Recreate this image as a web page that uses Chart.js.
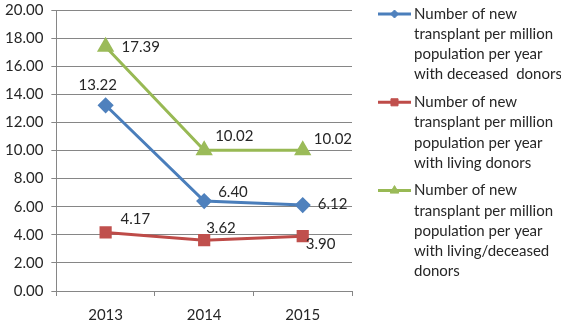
<!DOCTYPE html>
<html>
<head>
<meta charset="utf-8">
<script src="https://cdn.jsdelivr.net/npm/chart.js@4/dist/chart.umd.min.js"></script>
<style>
  html, body { margin: 0; padding: 0; background: #fff; }
  #wrap { width: 561px; height: 324px; }
</style>
</head>
<body>
<div id="wrap"><canvas id="line"></canvas></div>
<script>
var years = ['2013', '2014', '2015'];
var deceased = [13.22, 6.40, 6.12];
var living = [4.17, 3.62, 3.90];
var livingDeceased = [17.39, 10.02, 10.02];
var seriesNames = [
  'Number of new\ntransplant per million\npopulation per year\nwith deceased  donors',
  'Number of new\ntransplant per million\npopulation per year\nwith living donors',
  'Number of new\ntransplant per million\npopulation per year\nwith living/deceased\ndonors'
];

var FONT = 'Lato, "Open Sans", sans-serif';
var TEXT = '#262626';

// value labels next to the points (dx, dy from the point, in px)
var valueLabels = {
  id: 'valueLabels',
  afterDatasetsDraw: function(chart) {
    var ctx = chart.ctx;
    ctx.save();
    ctx.font = '15px ' + FONT;
    ctx.fillStyle = TEXT;
    ctx.textAlign = 'left';
    ctx.textBaseline = 'middle';
    chart.data.datasets.forEach(function(ds, i) {
      var meta = chart.getDatasetMeta(i);
      meta.data.forEach(function(pt, j) {
        var off = ds.labelOffsets[j];
        ctx.fillText(ds.data[j].toFixed(2), pt.x + off[0], pt.y + off[1]);
      });
    });
    ctx.restore();
  }
};

// legend at the right with wrapped names
var sideLegend = {
  id: 'sideLegend',
  afterDraw: function(chart) {
    var ctx = chart.ctx;
    var y = 14;
    ctx.save();
    ctx.font = '15px ' + FONT;
    ctx.textBaseline = 'middle';
    ctx.textAlign = 'left';
    chart.data.datasets.forEach(function(ds, i) {
      ctx.strokeStyle = ds.borderColor;
      ctx.lineWidth = 3;
      ctx.beginPath();
      ctx.moveTo(378, y);
      ctx.lineTo(411, y);
      ctx.stroke();
      ctx.fillStyle = ds.pointBackgroundColor;
      ctx.strokeStyle = ds.pointBorderColor;
      ctx.lineWidth = 1;
      Chart.helpers.drawPoint(ctx, {
        pointStyle: ds.pointStyle,
        radius: ds.legendRadius,
        borderWidth: 1
      }, 394.5, y);
      ctx.fillStyle = TEXT;
      var lines = ds.label.split('\n');
      lines.forEach(function(line, k) {
        ctx.fillText(line, 414, y + k * 20.2);
      });
      y += lines.length * 20.2 + 7.5;
    });
    ctx.restore();
  }
};

new Chart(document.getElementById('line'), {
  type: 'line',
  data: {
    labels: years,
    datasets: [
      {
        label: seriesNames[0],
        data: deceased,
        borderColor: '#4A7EBB',
        pointBackgroundColor: '#4F81BD',
        pointBorderColor: '#4F81BD',
        pointStyle: 'rectRot',
        pointRadius: 6,
        legendRadius: 4,
        borderWidth: 3,
        labelOffsets: [[-27, -20], [14, -9], [15, -1]]
      },
      {
        label: seriesNames[1],
        data: living,
        borderColor: '#BE4B48',
        pointBackgroundColor: '#C0504D',
        pointBorderColor: '#C0504D',
        pointStyle: 'rect',
        pointRadius: 6.5,
        legendRadius: 5,
        borderWidth: 3,
        labelOffsets: [[15, -13], [2, -12], [3, 8]]
      },
      {
        label: seriesNames[2],
        data: livingDeceased,
        borderColor: '#98B954',
        pointBackgroundColor: '#9BBB59',
        pointBorderColor: '#9BBB59',
        pointStyle: 'triangle',
        pointRadius: 7,
        legendRadius: 5,
        borderWidth: 3,
        labelOffsets: [[16, 0], [11, -14], [11, -11]]
      }
    ]
  },
  options: {
    responsive: true,
    maintainAspectRatio: false,
    animation: false,
    events: [],
    layout: { padding: { top: 4, right: 209, left: -3, bottom: -10 } },
    plugins: {
      legend: { display: false },
      tooltip: { enabled: false }
    },
    scales: {
      x: {
        offset: true,
        grid: {
          offset: true,
          drawOnChartArea: false,
          color: '#868686',
          tickLength: 5
        },
        border: { color: '#868686', width: 1 },
        ticks: { color: TEXT, font: { family: FONT, size: 15 }, padding: 10 }
      },
      y: {
        min: 0,
        max: 20,
        afterFit: function(s) { s.paddingTop = 0; },
        ticks: {
          stepSize: 2,
          color: TEXT,
          font: { family: FONT, size: 15 },
          padding: 8,
          callback: function(v) { return v.toFixed(2); }
        },
        grid: { color: '#868686', tickLength: 5 },
        border: { color: '#868686', width: 1 }
      }
    }
  },
  plugins: [valueLabels, sideLegend]
});
</script>
</body>
</html>
